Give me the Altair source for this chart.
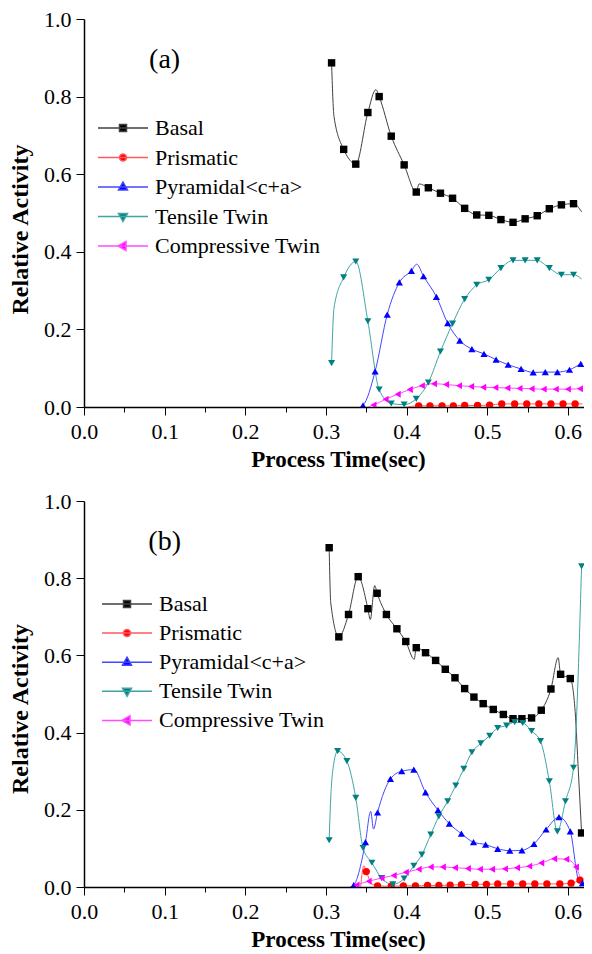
import altair as alt
import pandas as pd

FONT = "Liberation Serif"
SERIES = ["Basal", "Prismatic", "Pyramidal<c+a>", "Tensile Twin", "Compressive Twin"]
SERIES_IDX = [0, 1, 2, 3, 4]
MARKER_COLORS = ["#000000", "#ff0000", "#0000ff", "#008080", "#ff00ff"]
LINE_COLORS = ["#404040", "#ff5a5a", "#4646ff", "#40a4a4", "#ff4cff"]
SHAPES = ["square", "circle", "triangle-up", "triangle-down", "triangle-left"]
MARKER_SIZES = [55, 48, 100, 100, 90]

X_TICKS = [0.0, 0.05, 0.1, 0.15, 0.2, 0.25, 0.3, 0.35, 0.4, 0.45, 0.5, 0.55, 0.6]
Y_TICKS = [0.0, 0.1, 0.2, 0.3, 0.4, 0.5, 0.6, 0.7, 0.8, 0.9, 1.0]

# ---------------- panel (a) ----------------
A_BASAL_T = [0.307, 0.322, 0.337, 0.352, 0.366, 0.381, 0.397, 0.412, 0.427, 0.442, 0.457,
             0.472, 0.487, 0.502, 0.517, 0.532, 0.547, 0.562, 0.577, 0.592, 0.607]
A_BASAL_V = [0.887, 0.664, 0.626, 0.759, 0.800, 0.698, 0.624, 0.554, 0.565, 0.551, 0.538,
             0.512, 0.495, 0.494, 0.483, 0.476, 0.485, 0.493, 0.511, 0.521, 0.524]
A_BASAL_LT = [0.310, 0.3277, 0.362, 0.4155, 0.617]
A_BASAL_LV = [0.749, 0.642, 0.818, 0.575, 0.503]

A_PRISM_T = [0.415, 0.429, 0.444, 0.458, 0.472, 0.488, 0.503, 0.518, 0.534, 0.549, 0.564,
             0.579, 0.594, 0.609]
A_PRISM_V = [0.003, 0.003, 0.003, 0.003, 0.004, 0.004, 0.005, 0.008, 0.008, 0.008, 0.008,
             0.008, 0.008, 0.008]
A_PRISM_LT = [0.400, 0.618]
A_PRISM_LV = [0.0, 0.008]

A_PYR_T = [0.346, 0.361, 0.376, 0.391, 0.406, 0.421, 0.437, 0.451, 0.466, 0.481, 0.496,
           0.511, 0.526, 0.542, 0.557, 0.572, 0.587, 0.602, 0.616]
A_PYR_V = [0.004, 0.092, 0.238, 0.321, 0.351, 0.337, 0.284, 0.216, 0.171, 0.149, 0.137,
           0.122, 0.109, 0.098, 0.089, 0.090, 0.090, 0.096, 0.111]
A_PYR_LT = [0.342, 0.4125, 0.618]
A_PYR_LV = [0.0, 0.368, 0.113]

A_TENS_T = [0.307, 0.322, 0.337, 0.352, 0.366, 0.381, 0.397, 0.412, 0.427, 0.442, 0.457,
            0.472, 0.487, 0.502, 0.517, 0.532, 0.547, 0.562, 0.577, 0.592, 0.607]
A_TENS_V = [0.113, 0.334, 0.375, 0.221, 0.045, 0.009, 0.006, 0.021, 0.063, 0.143, 0.215,
            0.278, 0.315, 0.328, 0.358, 0.378, 0.378, 0.378, 0.358, 0.341, 0.341]
A_TENS_LT = [0.310, 0.617]
A_TENS_LV = [0.255, 0.330]

A_COMP_T = [0.359, 0.374, 0.389, 0.404, 0.419, 0.434, 0.449, 0.465, 0.480, 0.495, 0.510,
            0.525, 0.540, 0.555, 0.570, 0.585, 0.600, 0.615]
A_COMP_V = [0.005, 0.020, 0.033, 0.045, 0.055, 0.060, 0.058, 0.055, 0.053, 0.051, 0.050,
            0.049, 0.048, 0.047, 0.046, 0.046, 0.046, 0.047]
A_COMP_LT = [0.352]
A_COMP_LV = [0.0]

# ---------------- panel (b) ----------------
B_BASAL_T = [0.304, 0.316, 0.328, 0.340, 0.352, 0.3635, 0.375, 0.388, 0.399, 0.412, 0.4235,
             0.436, 0.448, 0.460, 0.472, 0.4835, 0.495, 0.5075, 0.520, 0.532, 0.543, 0.555,
             0.567, 0.579, 0.591, 0.603, 0.617]
B_BASAL_V = [0.879, 0.648, 0.706, 0.804, 0.721, 0.761, 0.706, 0.669, 0.636, 0.620, 0.607,
             0.587, 0.564, 0.542, 0.514, 0.492, 0.475, 0.460, 0.447, 0.436, 0.436, 0.438,
             0.458, 0.513, 0.551, 0.540, 0.140]
B_BASAL_LT = [0.306, 0.355, 0.3605, 0.4095, 0.588, 0.609, 0.613]
B_BASAL_LV = [0.736, 0.693, 0.781, 0.590, 0.594, 0.455, 0.300]

B_PRISM_T = [0.350, 0.364, 0.381, 0.396, 0.411, 0.426, 0.440, 0.454, 0.468, 0.485, 0.499,
             0.513, 0.529, 0.544, 0.559, 0.574, 0.590, 0.604, 0.615]
B_PRISM_V = [0.040, 0.003, 0.002, 0.003, 0.003, 0.004, 0.004, 0.005, 0.006, 0.007, 0.007,
             0.008, 0.008, 0.008, 0.008, 0.008, 0.008, 0.010, 0.018]
B_PRISM_LT = [0.343, 0.347, 0.357]
B_PRISM_LV = [0.0, 0.055, 0.008]

B_PYR_T = [0.3345, 0.349, 0.364, 0.380, 0.394, 0.409, 0.4235, 0.439, 0.453, 0.468, 0.483,
           0.498, 0.513, 0.528, 0.543, 0.558, 0.573, 0.589, 0.603, 0.618]
B_PYR_V = [0.005, 0.116, 0.193, 0.280, 0.300, 0.304, 0.245, 0.199, 0.164, 0.138, 0.116,
           0.110, 0.099, 0.094, 0.095, 0.112, 0.149, 0.181, 0.144, 0.010]
B_PYR_LT = [0.330, 0.3555, 0.359, 0.613]
B_PYR_LV = [0.0, 0.196, 0.150, 0.020]

B_TENS_T = [0.304, 0.3145, 0.326, 0.337, 0.346, 0.357, 0.369, 0.383, 0.397, 0.409, 0.419,
            0.430, 0.440, 0.451, 0.461, 0.471, 0.481, 0.492, 0.503, 0.513, 0.524, 0.534,
            0.544, 0.555, 0.566, 0.577, 0.587, 0.597, 0.607, 0.617]
B_TENS_V = [0.121, 0.352, 0.326, 0.231, 0.101, 0.063, 0.023, 0.007, 0.022, 0.055, 0.084,
            0.136, 0.183, 0.222, 0.263, 0.306, 0.349, 0.372, 0.392, 0.412, 0.418, 0.427,
            0.425, 0.404, 0.378, 0.274, 0.144, 0.222, 0.309, 0.831]
B_TENS_LT = [0.3055, 0.309]
B_TENS_LV = [0.210, 0.310]

B_COMP_T = [0.338, 0.353, 0.369, 0.384, 0.399, 0.415, 0.430, 0.445, 0.460, 0.476, 0.491,
            0.506, 0.522, 0.537, 0.552, 0.567, 0.583, 0.598, 0.610]
B_COMP_V = [0.005, 0.015, 0.023, 0.030, 0.038, 0.046, 0.052, 0.052, 0.050, 0.048, 0.046,
            0.046, 0.047, 0.050, 0.054, 0.062, 0.073, 0.072, 0.052]
B_COMP_LT = [0.617]
B_COMP_LV = [0.012]

PANEL_A = [(A_BASAL_T, A_BASAL_V, A_BASAL_LT, A_BASAL_LV),
           (A_PRISM_T, A_PRISM_V, A_PRISM_LT, A_PRISM_LV),
           (A_PYR_T, A_PYR_V, A_PYR_LT, A_PYR_LV),
           (A_TENS_T, A_TENS_V, A_TENS_LT, A_TENS_LV),
           (A_COMP_T, A_COMP_V, A_COMP_LT, A_COMP_LV)]
PANEL_B = [(B_BASAL_T, B_BASAL_V, B_BASAL_LT, B_BASAL_LV),
           (B_PRISM_T, B_PRISM_V, B_PRISM_LT, B_PRISM_LV),
           (B_PYR_T, B_PYR_V, B_PYR_LT, B_PYR_LV),
           (B_TENS_T, B_TENS_V, B_TENS_LT, B_TENS_LV),
           (B_COMP_T, B_COMP_V, B_COMP_LT, B_COMP_LV)]

# legend symbols: a line segment with the marker on it (custom SVG paths, 1 unit = 5 px)
LEGEND_PATHS = [
    "M-2.2,0H7.8M2.1,-0.7H3.5V0.7H2.1Z",
    "M-2.2,0H7.8M3.5,0A0.7,0.7,0,1,1,2.1,0A0.7,0.7,0,1,1,3.5,0Z",
    "M-2.2,0H7.8M2.8,-1L3.7,0.6H1.9Z",
    "M-2.2,0H7.8M2.8,1L3.7,-0.6H1.9Z",
    "M-2.2,0H7.8M1.8,0L3.4,-0.9V0.9Z",
]
NAMES_JS = "[" + ",".join("'" + s + "'" for s in SERIES) + "]"
PATH_EXPR = "[" + ",".join("'" + p + "'" for p in LEGEND_PATHS) + "][indexof(" + NAMES_JS + ", datum.value)]"
STROKE_EXPR = "[" + ",".join("'" + c + "'" for c in LINE_COLORS) + "][indexof(" + NAMES_JS + ", datum.value)]"


def frames(panel):
    mk, ln = [], []
    for k, (name, (mt, mv, lt, lv)) in enumerate(zip(SERIES, panel)):
        for t, v in zip(mt, mv):
            mk.append({"t": t, "v": v, "series": name, "k": k})
            ln.append({"t": t, "v": v, "series": name, "k": k})
        for t, v in zip(lt, lv):
            ln.append({"t": t, "v": v, "series": name, "k": k})
    mk = pd.DataFrame(mk).sort_values(["k", "t"])
    ln = pd.DataFrame(ln).sort_values(["k", "t"])
    return mk, ln


X_LABEL_EXPR = "round(datum.value*100) % 10 === 0 ? format(datum.value, '.1f') : ''"
Y_LABEL_EXPR = "round(datum.value*10) % 2 === 0 ? format(datum.value, '.1f') : ''"


def panel(data, label, label_x, label_y, height, legend_x, legend_y, row_pad, ytitle_y):
    mk, ln = frames(data)
    x = alt.X("t:Q", scale=alt.Scale(domain=[0, 0.62], nice=False, zero=False),
              axis=alt.Axis(title="Process Time(sec)", values=X_TICKS, labelExpr=X_LABEL_EXPR,
                            labelFlush=False, labelOverlap=False, titleX=254,
                            tickSize={"condition": {"test": "round(datum.value*100) % 10 === 0", "value": 8}, "value": 5}))
    y = alt.Y("v:Q", scale=alt.Scale(domain=[0, 1], nice=False),
              axis=alt.Axis(title="Relative Activity", values=Y_TICKS, labelExpr=Y_LABEL_EXPR,
                            labelOverlap=False, titleY=ytitle_y,
                            tickSize={"condition": {"test": "round(datum.value*10) % 2 === 0", "value": 8}, "value": 5}))
    lines = alt.Chart(ln).mark_line(strokeWidth=1, interpolate="monotone", clip=True).encode(
        x=x, y=y,
        stroke=alt.Stroke("k:N", scale=alt.Scale(domain=SERIES_IDX, range=LINE_COLORS), legend=None),
        order="t:Q",
    )
    legend = alt.Legend(
        title=None, orient="none", legendX=legend_x, legendY=legend_y,
        labelFont=FONT, labelFontSize=22, labelColor="black", labelLimit=400,
        symbolSize=100, symbolStrokeWidth=1.5, rowPadding=row_pad, labelOffset=35, padding=0,
        symbolType={"expr": PATH_EXPR}, symbolStrokeColor={"expr": STROKE_EXPR},
    )
    points = alt.Chart(mk).mark_point(filled=True, opacity=1, clip=True).encode(
        x="t:Q", y="v:Q",
        color=alt.Color("series:N", scale=alt.Scale(domain=SERIES, range=MARKER_COLORS), legend=legend),
        shape=alt.Shape("k:N", scale=alt.Scale(domain=SERIES_IDX, range=SHAPES), legend=None),
        size=alt.Size("k:N", scale=alt.Scale(domain=SERIES_IDX, range=MARKER_SIZES), legend=None),
    )
    text = alt.Chart(pd.DataFrame({"panel": [label]})).mark_text(
        font=FONT, fontSize=28, color="black").encode(
        x=alt.datum(label_x), y=alt.datum(label_y), text="panel:N")
    return alt.layer(lines, points, text).properties(width=500, height=height)


top = panel(PANEL_A, "(a)", 0.1, 0.895, 388, 14, 98, 7.5, 210)
bottom = panel(PANEL_B, "(b)", 0.1, 0.895, 386, 18, 92, 7.1, 207.5)

chart = alt.vconcat(top, bottom, spacing=19).resolve_scale(
    color="independent", stroke="independent", shape="independent", size="independent"
).properties(
    padding={"left": 0, "top": 0, "right": 0, "bottom": 0}, background="white"
).configure_view(stroke=None).configure_axis(
    labelFont=FONT, labelFontSize=22, labelColor="black",
    titleFont=FONT, titleFontWeight="bold", titleColor="black",
    domainColor="black", domainWidth=1.5, tickColor="black", tickWidth=1, grid=False,
).configure_axisX(
    labelPadding=6, titlePadding=6, titleFontSize=23,
).configure_axisY(
    labelPadding=5, titlePadding=11.5, titleFontSize=24,
)

chart.save("out.html", embed_options={"renderer": "svg", "actions": False})
